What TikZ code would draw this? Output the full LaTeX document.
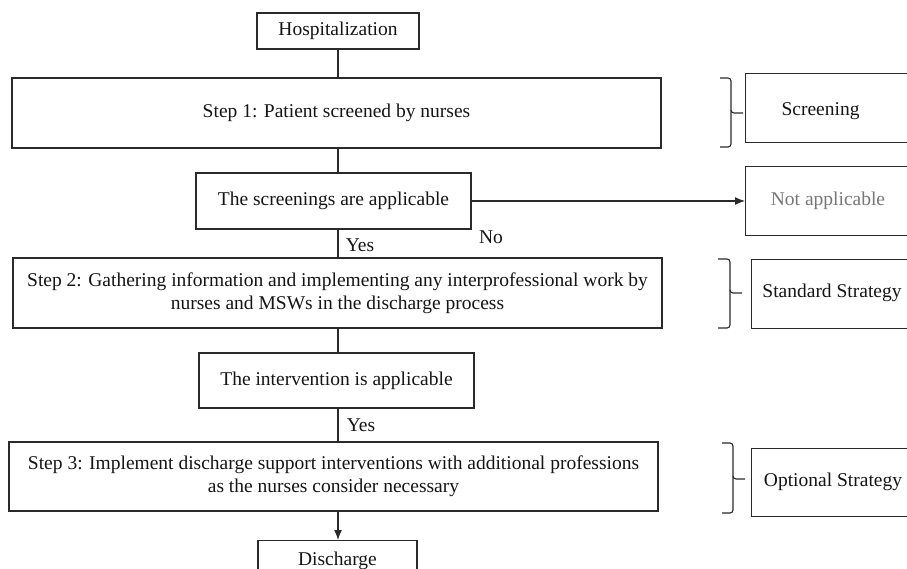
\documentclass[tikz,border=0pt]{standalone}
\usepackage{fontspec}
\setmainfont{Liberation Serif}
\usetikzlibrary{arrows.meta}
\definecolor{ln}{HTML}{2A2A2A}
\definecolor{txt}{HTML}{151515}
\definecolor{graytxt}{HTML}{777777}
\tikzset{
  box/.style={draw=ln, line width=1.3pt, inner sep=0pt, align=center, text=txt, font=\fontsize{19.5}{23}\selectfont},
  lbl/.style={inner sep=0pt, text=txt, font=\fontsize{19.5}{23}\selectfont},
  conn/.style={draw=ln, line width=1.3pt},
  arr/.style={conn, -{Latex[length=10pt,width=8pt]}},
  brk/.style={draw=ln, line width=1.1pt, rounded corners=3pt}
}
\begin{document}
\begin{tikzpicture}[x=1pt,y=-1pt]
\useasboundingbox (0,0) rectangle (907,568);
% main column
\node[box, minimum width=162pt, minimum height=36pt] (hosp) at (338,31) {Hospitalization};
\node[box, minimum width=649pt, minimum height=70pt] (s1) at (336.5,113) {Step 1: Patient screened by nurses};
\node[box, minimum width=275pt, minimum height=56pt] (scr) at (333.5,201) {The screenings are applicable};
\node[box, minimum width=649pt, minimum height=70pt] (s2) at (337.5,293) {Step 2: Gathering information and implementing any interprofessional work by\\nurses and MSWs in the discharge process};
\node[box, minimum width=275pt, minimum height=55pt] (int) at (336.5,380.5) {The intervention is applicable};
\node[box, minimum width=649pt, minimum height=69pt] (s3) at (333.5,476.5) {Step 3: Implement discharge support interventions with additional professions\\as the nurses consider necessary};
\node[box, minimum width=159pt, minimum height=40pt, anchor=north] (dis) at (337.5,540) {Discharge};
% right column
\node[box, minimum width=175pt, minimum height=69pt, anchor=north west] (scrn) at (745,73) {};
\node[lbl] (scrnt) at (820.5,111) {Screening};
\node[box, minimum width=175pt, minimum height=69pt, anchor=north west] (na) at (745,166) {};
\node[lbl, text=graytxt] (nat) at (828,201) {Not applicable};
\node[box, minimum width=175pt, minimum height=69pt, anchor=north west] (std) at (751,259) {};
\node[lbl] (stdt) at (832,293) {Standard Strategy};
\node[box, minimum width=175pt, minimum height=68pt, anchor=north west] (opt) at (751,448) {};
\node[lbl] (optt) at (833,482) {Optional Strategy};
% connectors
\draw[conn] (hosp.south) -- (hosp.south |- s1.north);
\draw[conn] (hosp.south |- s1.south) -- (hosp.south |- scr.north);
\draw[conn] (hosp.south |- scr.south) -- (hosp.south |- s2.north);
\draw[conn] (hosp.south |- s2.south) -- (hosp.south |- int.north);
\draw[conn] (hosp.south |- int.south) -- (hosp.south |- s3.north);
\draw[arr] (hosp.south |- s3.south) -- (hosp.south |- dis.north);
\draw[arr] (scr.east) -- (scr.east -| na.west);
\node[lbl] (yes1) at (360,245) {Yes};
\node[lbl] (no1) at (491,237) {No};
\node[lbl] (yes2) at (361,425) {Yes};
% brackets
\draw[brk] (720,78) -- (731,78) -- (731,113) -- (743,113);
\draw[brk] (731,110) -- (731,147) -- (720,147);
\draw[brk] (718,259) -- (730,259) -- (730,293) -- (742,293);
\draw[brk] (730,290) -- (730,328) -- (718,328);
\draw[brk] (722,443) -- (733,443) -- (733,479) -- (745,479);
\draw[brk] (733,476) -- (733,513) -- (722,513);
\end{tikzpicture}
\end{document}
